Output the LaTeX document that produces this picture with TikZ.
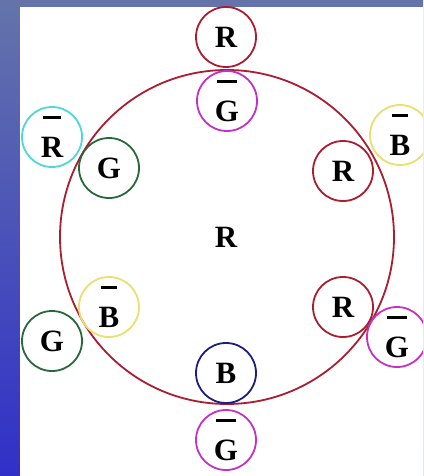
\documentclass[tikz,border=0pt]{standalone}
\usepackage{fontspec}
\setmainfont{Liberation Serif}
\definecolor{cred}{RGB}{170,30,50}
\definecolor{cmag}{RGB}{195,50,195}
\definecolor{ccyan}{RGB}{80,215,215}
\definecolor{cgreen}{RGB}{40,105,60}
\definecolor{cyel}{RGB}{232,224,112}
\definecolor{cnavy}{RGB}{30,30,130}
\definecolor{bgtop}{RGB}{100,116,170}
\definecolor{bgbot}{RGB}{48,48,200}
\newcommand{\ovl}[1]{\setbox0\hbox{#1}\vbox{\hbox to \wd0{\hss\vrule width 0.8\wd0 height 2.8pt\hss}\kern 6pt\box0}}
\tikzset{
  lbl/.style={font=\fontsize{31}{33}\selectfont\bfseries},
  sc/.style={circle, draw=#1, line width=1.8pt, minimum size=60pt, inner sep=0pt, lbl},
}
\begin{document}
\begin{tikzpicture}[x=1pt,y=-1pt]
\useasboundingbox (0,0) rectangle (423,476);
\shade[top color=bgtop, bottom color=bgbot] (0,0) rectangle (423,476);
\fill[bgtop] (0,0) rectangle (423,7);
\fill[white] (20,7) rectangle (423,476);
\begin{scope}
\clip (20,7) rectangle (423,476);
\node[circle, draw=cred, line width=1.8pt, minimum size=334pt, inner sep=0pt] (big) at (227,237) {};
\node[lbl] (c) at (226,237) {R};
\node[sc=cred] (t1) at (226,37) {R};
\node[sc=cmag] (t2) at (227,101) {\ovl{G}};
\node[sc=ccyan] (a1) at (52,137) {\ovl{R}};
\node[sc=cgreen] (a2) at (109,168) {G};
\node[sc=cyel] (b1) at (400,135) {\ovl{B}};
\node[sc=cred] (b2) at (343,171) {R};
\node[sc=cred] (d1) at (343,307) {R};
\node[sc=cmag] (d2) at (397,337) {\ovl{G}};
\node[sc=cyel] (e1) at (109,307) {\ovl{B}};
\node[sc=cgreen] (e2) at (52,341) {G};
\node[sc=cnavy] (f1) at (226,373) {B};
\node[sc=cmag] (f2) at (226,440) {\ovl{G}};
\end{scope}
\end{tikzpicture}
\end{document}
